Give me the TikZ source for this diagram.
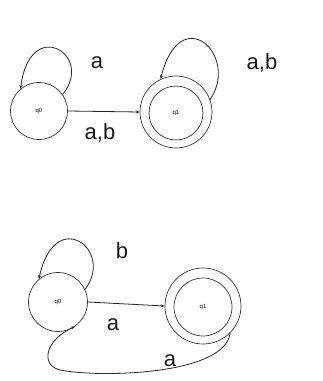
\documentclass[tikz,border=0pt]{standalone}
\usepackage{fontspec}
\setmainfont{Liberation Sans}
\usetikzlibrary{arrows.meta}
\begin{document}
\begin{tikzpicture}[x=1pt,y=-1pt,
  st/.style={draw=black!80,line width=0.7pt,circle,inner sep=0pt,minimum size=#1,font=\fontsize{6}{7}\selectfont},
  edge/.style={draw=black!85,line width=0.8pt,-{Stealth[length=4pt,width=3pt]}},
  lbl/.style={font=\fontsize{22}{24}\selectfont,text=black!90}]
\useasboundingbox (0,0) rectangle (323,381);
% top diagram
\node[st=57pt] (a0) at (39,111) {q0};
\node[st=72pt] (a1) at (176,112) {};
\node[st=54pt] (a1i) at (176,113) {q1};
\draw[edge] (a0.east) -- (a1.west);
\draw[edge] (a0.35) .. controls (95,55) and (30,15) .. (a0.130);
\draw[edge] (a1.20) .. controls (240,55) and (180,0) .. (a1.115);
\node[lbl] (la) at (97,63) {a};
\node[lbl] (lab1) at (100,133) {a,b};
\node[lbl] (lab2) at (262,63) {a,b};
% bottom diagram
\node[st=59pt] (b0) at (58,302) {q0};
\node[st=76pt] (b1) at (203,306) {};
\node[st=58pt] (b1i) at (203,307) {q1};
\draw[edge] (b0.east) -- (b1.west);
\draw[edge] (b0.25) .. controls (115,250) and (55,205) .. (b0.130);
\draw[edge] (b1.-45) .. controls (225,375) and (100,378) .. (60,370) .. controls (40,365) and (45,340) .. (b0.-55);
\node[lbl] (lb) at (122,251) {b};
\node[lbl] (la2) at (113,325) {a};
\node[lbl] (la3) at (170,361) {a};
\end{tikzpicture}
\end{document}
